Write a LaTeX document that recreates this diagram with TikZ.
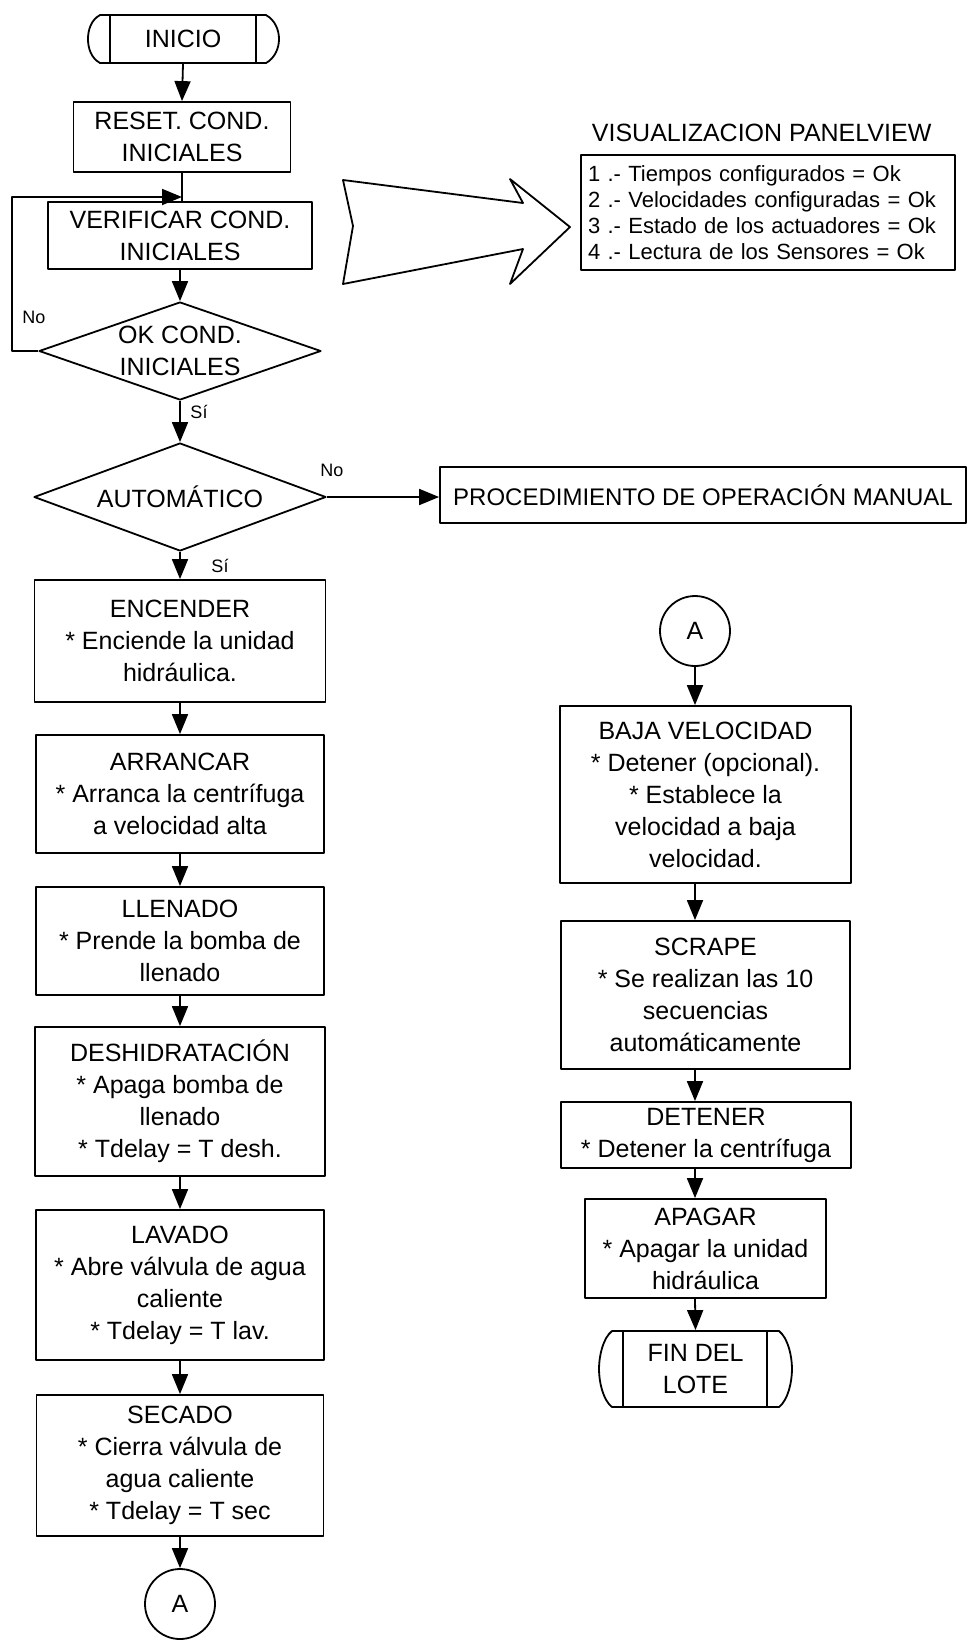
\documentclass[tikz,border=0pt]{standalone}
\usepackage{fontspec}
\setmainfont{Liberation Sans}
\usetikzlibrary{arrows.meta,shapes.geometric}
\newcommand\bxfont{\fontsize{12.5}{16}\selectfont}
\newcommand\pcfont{\fontsize{12}{16}\selectfont}
\newcommand\lsfont{\fontsize{11}{13}\selectfont}
\newcommand\lbfont{\fontsize{9}{11}\selectfont}
\tikzset{
  box/.style={draw, rectangle, inner sep=0pt, align=center, font=\bxfont},
  dec/.style={draw, diamond, inner sep=0pt, align=center, font=\bxfont},
  conn/.style={draw, circle, inner sep=0pt, minimum size=35pt, font=\bxfont},
  plain/.style={inner sep=0pt, align=center, font=\bxfont},
  flow/.style={-{Triangle[length=10pt,width=8pt]}},
  lbl/.style={inner sep=0pt, font=\lbfont},
}
\begin{document}
\begin{tikzpicture}[x=0.5pt, y=-0.5pt, line width=0.9pt, line join=round]
\path[use as bounding box] (0,0) rectangle (968,1640);

% ---------- start terminal ----------
\node[plain, minimum width=95.5pt, minimum height=24pt] (inicio) at (183,39) {INICIO};
\draw (100,15) -- (266,15) .. controls (275,20) and (279,30) .. (279,39)
      .. controls (279,48) and (275,58) .. (266,63) -- (100,63)
      .. controls (91,58) and (88,48) .. (88,39)
      .. controls (88,30) and (91,20) .. (100,15) -- cycle;
\draw (110,15) -- (110,63);
\draw (256,15) -- (256,63);

% ---------- initial checks ----------
\node[box, minimum width=108.5pt, minimum height=35pt] (reset) at (182,137) {RESET. COND.\\INICIALES};
\node[box, minimum width=132pt, minimum height=33.5pt] (verif) at (180,235.5) {VERIFICAR COND.\\INICIALES};
\node[dec, shape aspect=2.9, minimum width=141pt, minimum height=49pt] (okc) at (180,351) {OK COND.\\INICIALES};
\node[dec, shape aspect=2.7, minimum width=146pt, minimum height=54pt] (auto) at (180,497) {AUTOMÁTICO};
\node[box, font=\pcfont, minimum width=263pt, minimum height=28pt] (proc) at (703,495) {PROCEDIMIENTO DE OPERACIÓN MANUAL};

\coordinate (jn) at (182,197);
\coordinate (lpt) at (12,197);

\draw[flow] (inicio.south) -- (reset.north);
\draw (reset.south) -- (reset.south |- verif.north);
\draw[flow] (okc.west) -| (lpt) -- (jn);
\draw[flow] (verif.south) -- (okc.north);
\draw[flow] (okc.south) -- (auto.north);
\draw[flow] (auto.east) -- (auto.east -| proc.west);

\node[lbl] (no1) at (34,317) {No};
\node[lbl] (si1) at (199,412) {Sí};
\node[lbl] (no2) at (332,470) {No};
\node[lbl] (si2) at (220,566) {Sí};

% ---------- automatic sequence, left column ----------
\node[box, minimum width=145.5pt, minimum height=61pt] (enc) at (180,641) {ENCENDER\\* Enciende la unidad\\hidráulica.};
\node[box, minimum width=144pt, minimum height=59pt] (arr) at (180,794) {ARRANCAR\\* Arranca la centrífuga\\a velocidad alta};
\node[box, minimum width=144pt, minimum height=54pt] (lle) at (180,941) {LLENADO\\* Prende la bomba de\\llenado};
\node[box, minimum width=145pt, minimum height=74.5pt] (des) at (180,1101.5) {DESHIDRATACIÓN\\* Apaga bomba de\\llenado\\* Tdelay = T desh.};
\node[box, minimum width=144pt, minimum height=75pt] (lav) at (180,1285) {LAVADO\\* Abre válvula de agua\\caliente\\* Tdelay = T lav.};
\node[box, minimum width=143.5pt, minimum height=70.5pt] (sec) at (180,1465.5) {SECADO\\* Cierra válvula de\\agua caliente\\* Tdelay = T sec};
\node[conn] (ca) at (180,1604) {A};

\draw[flow] (auto.south) -- (enc.north);
\draw[flow] (enc.south) -- (arr.north);
\draw[flow] (arr.south) -- (lle.north);
\draw[flow] (lle.south) -- (des.north);
\draw[flow] (des.south) -- (lav.north);
\draw[flow] (lav.south) -- (sec.north);
\draw[flow] (sec.south) -- (ca.north);

% ---------- automatic sequence, right column ----------
\node[conn] (cb) at (695,631) {A};
\node[box, minimum width=145.5pt, minimum height=88.5pt] (baja) at (705.5,794.5) {BAJA VELOCIDAD\\* Detener (opcional).\\* Establece la\\velocidad a baja\\velocidad.};
\node[box, minimum width=144.5pt, minimum height=74pt] (scr) at (705.5,995) {SCRAPE\\* Se realizan las 10\\secuencias\\automáticamente};
\node[box, minimum width=145pt, minimum height=33pt] (det) at (706,1135) {DETENER\\* Detener la centrífuga};
\node[box, minimum width=120.5pt, minimum height=49.5pt] (apa) at (705.5,1248.5) {APAGAR\\* Apagar la unidad\\hidráulica};
\node[plain, minimum width=96.5pt, minimum height=38pt] (fin) at (695.5,1369) {FIN DEL\\LOTE};
\draw (612,1331) -- (779,1331) .. controls (788,1338) and (792,1356) .. (792,1369)
      .. controls (792,1382) and (788,1400) .. (779,1407) -- (612,1407)
      .. controls (603,1400) and (599,1382) .. (599,1369)
      .. controls (599,1356) and (603,1338) .. (612,1331) -- cycle;
\draw (623,1331) -- (623,1407);
\draw (767,1331) -- (767,1407);

\draw[flow] (cb.south) -- (cb.south |- baja.north);
\draw[flow] (cb.south |- baja.south) -- (cb.south |- scr.north);
\draw[flow] (cb.south |- scr.south) -- (cb.south |- det.north);
\draw[flow] (cb.south |- det.south) -- (cb.south |- apa.north);
\draw[flow] (cb.south |- apa.south) -- (fin.north);

% ---------- panel display ----------
\draw (343,180) -- (523,203) -- (510,179) -- (570,227) -- (510,284)
      -- (523,249) -- (343,284) -- (353,226) -- cycle;
\node[inner sep=0pt, anchor=west, font=\bxfont] (pvt) at (591,133) {VISUALIZACION PANELVIEW};
\node[draw, rectangle, inner xsep=3.5pt, inner ysep=0pt, minimum width=187pt, minimum height=57.5pt,
      text width=180pt, align=left, font=\lsfont] (pvb) at (768,212.5)
  {1 .- Tiempos configurados = Ok\\2 .- Velocidades configuradas = Ok\\3 .- Estado de los actuadores = Ok\\4 .- Lectura de los Sensores = Ok};
\end{tikzpicture}
\end{document}
